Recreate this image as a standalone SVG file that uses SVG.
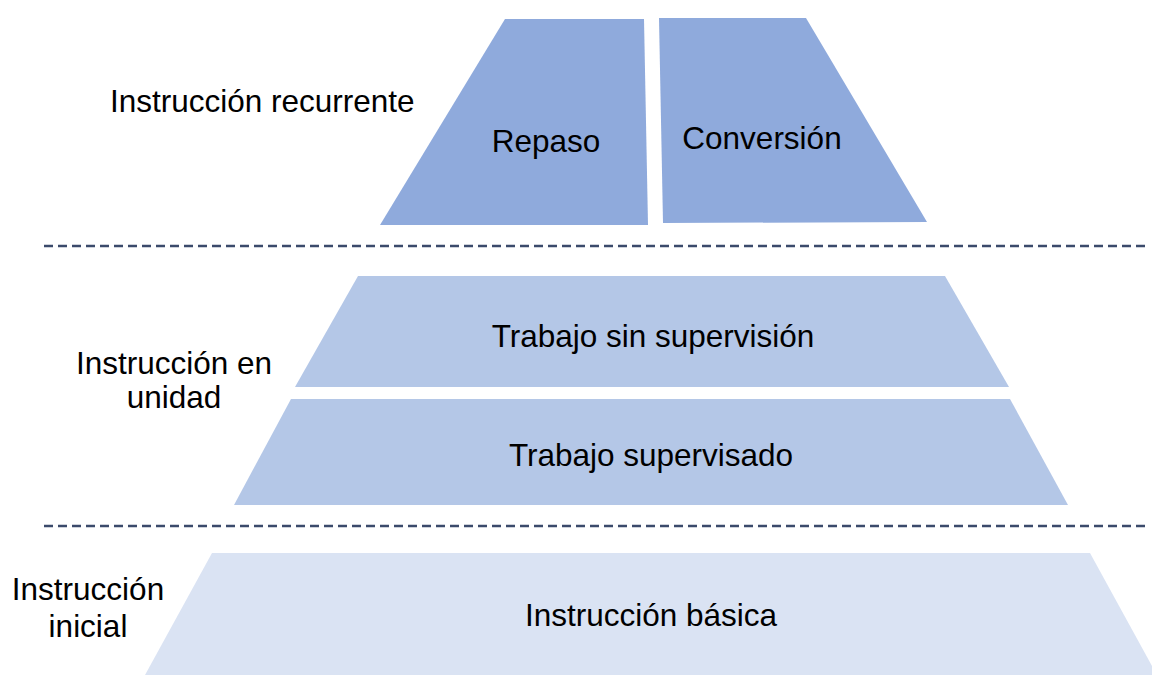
<svg xmlns="http://www.w3.org/2000/svg" width="1152" height="675" viewBox="0 0 1152 675">
<style>
text{font-family:"Liberation Sans",Arial,sans-serif;font-size:31.5px;fill:#000}
.c{text-anchor:middle}
.top{fill:#8FAADC}
.mid{fill:#B4C7E7}
.bot{fill:#DAE3F3}
.dash{stroke:#3B4A6B;stroke-width:2.6;stroke-dasharray:9 5;fill:none}
</style>
<rect width="1152" height="675" fill="#fff"/>
<g id="connectors">
<line class="dash" x1="44" y1="246" x2="1146" y2="246"/>
<line class="dash" x1="44" y1="526" x2="1146" y2="526"/>
</g>
<g id="repaso">
<polygon class="top" points="505,19 644,19 648,225 380,225"/>
<text class="c" x="546" y="152">Repaso</text>
</g>
<g id="conversion">
<polygon class="top" points="659,18 806,18 927,222 663,223"/>
<text class="c" x="762" y="149">Conversión</text>
</g>
<g id="sin-supervision">
<polygon class="mid" points="358,276 945,276 1009,387 295,387"/>
<text class="c" x="653" y="347">Trabajo sin supervisión</text>
</g>
<g id="supervisado">
<polygon class="mid" points="291,399 1010,399 1068,505 234,505"/>
<text class="c" x="651" y="466">Trabajo supervisado</text>
</g>
<g id="basica">
<polygon class="bot" points="212,553 1090,553 1157,675 145,675"/>
<text class="c" x="651" y="626">Instrucción básica</text>
</g>
<g id="label-recurrente">
<text x="110" y="112">Instrucción recurrente</text>
</g>
<g id="label-unidad">
<text class="c" x="174" y="374">Instrucción en</text>
<text class="c" x="174" y="408">unidad</text>
</g>
<g id="label-inicial">
<text class="c" x="88" y="600">Instrucción</text>
<text class="c" x="88" y="637">inicial</text>
</g>
</svg>
